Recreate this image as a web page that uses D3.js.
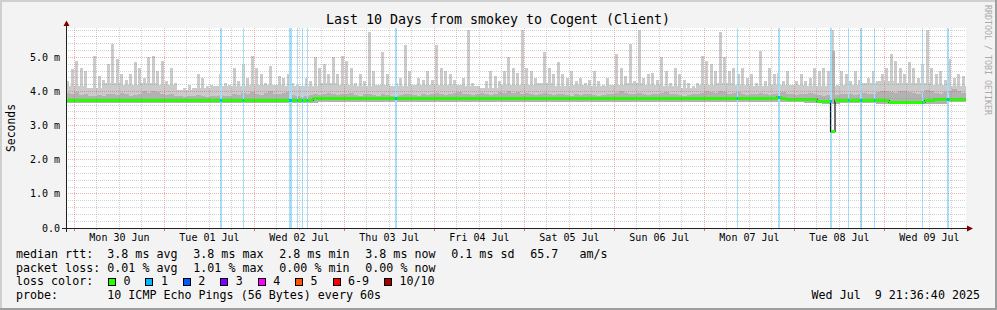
<!DOCTYPE html>
<html><head><meta charset="utf-8">
<script src="https://cdn.jsdelivr.net/npm/d3@7"></script>
<style>
body{margin:0;background:#f3f3f3}
svg{display:block}
text{font-family:"DejaVu Sans Mono",monospace;white-space:pre}
</style>
</head><body><svg id="c" width="997" height="310"></svg>
<script>
// ---------- data ----------
const title = "Last 10 Days from smokey to Cogent (Client)";
const startTime = "2025-06-29 21:36:40";
const endTime = "2025-07-09 21:36:40";
const binMinutes = 72;          // one value per 72 minutes (200 values)
const plateauMinutes = 288;     // one value per 288 minutes (50 values)

// highest ping of each 72-min bin (ms)
const maxPing = [
4.3,4.65,4.9,4.7,4.6,4.1,5.05,4.45,4.35,4.8,
5.4,4.95,4.5,4.35,4.5,4.85,4.7,4.4,5.0,5.05,
4.6,4.9,4.3,4.7,4.25,4.05,4.1,4.2,4.05,4.5,
4.4,4.15,4.2,4.15,4.5,4.25,4.2,4.7,4.3,4.8,
4.4,5.05,4.7,4.5,4.25,4.75,4.2,4.45,4.4,4.5,
4.25,4.2,4.1,4.4,4.3,5.0,4.7,4.8,4.5,5.0,
4.5,5.05,4.9,4.7,4.25,4.5,4.3,5.75,4.6,4.2,
5.15,4.5,4.15,4.25,4.4,5.35,4.6,4.2,4.4,4.35,
4.6,4.35,5.35,4.7,4.6,4.5,4.35,4.2,4.4,5.8,
4.25,4.15,4.1,4.3,4.6,4.45,4.3,4.6,5.0,4.7,
4.55,5.8,4.7,4.6,4.4,4.2,5.15,4.7,4.5,4.85,
4.5,4.4,4.6,4.3,4.4,4.25,4.35,4.6,4.3,4.2,
4.4,4.15,5.1,4.7,4.45,5.4,4.3,5.8,4.4,4.5,
4.55,4.35,5.0,4.6,4.25,4.7,4.5,4.35,4.25,4.15,
4.25,5.05,4.9,4.8,4.6,5.75,5.0,4.6,4.7,4.5,
4.7,4.4,4.5,4.25,5.2,4.3,4.7,4.5,4.55,4.3,
4.6,4.2,4.3,4.5,4.3,4.4,4.7,4.6,4.7,4.6,
5.8,4.2,4.6,4.5,4.3,4.6,4.35,4.25,4.4,4.6,
4.3,4.5,4.7,5.1,4.9,4.7,4.5,4.85,4.7,4.4,
4.8,5.8,4.7,4.5,4.6,4.35,4.95,4.4,4.5,4.45];

// upper edge of the dense light smoke, per 288-min bin (ms)
const plateau = [
4.15,4.1,4.25,4.2,4.25,4.2,4.05,4.1,4.15,4.15,
4.2,4.2,4.15,4.15,4.25,4.2,4.15,4.2,4.15,4.2,
4.2,4.2,4.15,4.1,4.2,4.2,4.25,4.15,4.2,4.15,
4.2,4.25,4.2,4.15,4.1,4.2,4.25,4.2,4.15,4.2,
4.2,4.15,4.15,4.2,4.25,4.3,4.25,4.25,4.2,4.15];

// upper edge of the darker inner smoke, per 72-min bin (ms)
const innerTop = [
3.96,3.92,3.98,3.9,3.94,3.88,3.86,3.9,3.88,3.92,
3.94,3.9,3.96,3.92,3.88,3.9,3.94,4.0,3.96,4.02,
3.98,3.92,3.9,3.94,3.88,3.86,3.84,3.86,3.88,3.9,
3.86,3.84,3.88,3.86,3.9,3.88,3.86,3.92,3.9,3.96,
3.92,3.98,3.94,3.9,3.96,4.0,3.94,3.92,3.96,3.98,
3.9,3.86,3.84,3.88,3.9,3.92,3.9,3.94,3.96,3.92,
3.9,3.94,3.92,3.96,3.9,3.88,3.92,3.94,3.9,3.88,
3.92,3.9,3.88,3.86,3.9,3.92,3.94,3.9,3.88,3.92,
3.9,3.94,3.96,3.92,3.9,3.94,3.96,3.98,3.94,3.92,
3.9,3.94,3.96,3.92,3.9,3.94,3.98,3.96,4.0,3.96,
3.98,3.94,3.96,3.92,3.9,3.94,3.96,3.92,3.9,3.94,
3.92,3.9,3.88,3.92,3.9,3.94,3.92,3.9,3.88,3.9,
3.94,3.92,3.96,4.0,3.96,3.94,3.92,3.96,3.94,3.9,
3.92,3.94,3.96,3.98,3.94,3.92,3.9,3.88,3.9,3.92,
3.94,3.96,4.0,3.98,3.96,4.02,3.98,3.94,3.96,3.98,
3.92,3.9,3.94,3.92,3.96,3.92,3.9,3.94,3.96,3.98,
3.94,3.92,3.9,3.92,3.94,3.96,3.92,3.9,3.88,3.9,
5.2,3.9,3.92,3.94,3.92,3.9,3.94,3.96,3.92,3.94,
3.98,4.0,4.02,3.98,3.96,4.0,4.02,3.98,3.96,3.94,
3.98,4.04,4.0,3.96,3.94,3.98,4.02,4.06,4.0,3.96];

// lowest ping, per 288-min bin (ms)
const smokeBottom = [
3.67,3.67,3.67,3.67,3.67,3.67,3.67,3.67,3.67,3.67,
3.67,3.67,3.67,3.67,3.69,3.69,3.69,3.69,3.69,3.69,
3.69,3.69,3.69,3.69,3.69,3.69,3.69,3.69,3.69,3.69,
3.69,3.69,3.69,3.69,3.69,3.69,3.69,3.69,3.69,3.69,
3.69,3.67,3.63,3.67,3.67,3.64,3.63,3.63,3.64,3.69];

// median rtt per 72-min bin (ms)
const median = [
3.75,3.74,3.74,3.74,3.74,3.74,3.74,3.74,3.74,3.74,
3.74,3.74,3.74,3.74,3.74,3.74,3.74,3.74,3.74,3.74,
3.74,3.74,3.74,3.74,3.74,3.74,3.74,3.74,3.74,3.74,
3.74,3.74,3.74,3.74,3.74,3.74,3.74,3.74,3.74,3.74,
3.74,3.74,3.74,3.74,3.74,3.74,3.74,3.74,3.74,3.74,
3.74,3.74,3.74,3.74,3.74,3.78,3.78,3.78,3.78,3.78,
3.78,3.78,3.78,3.78,3.78,3.78,3.78,3.78,3.78,3.78,
3.78,3.78,3.78,3.78,3.78,3.78,3.78,3.78,3.78,3.78,
3.78,3.78,3.78,3.78,3.78,3.78,3.78,3.78,3.78,3.78,
3.78,3.78,3.78,3.78,3.78,3.78,3.78,3.78,3.78,3.78,
3.78,3.78,3.78,3.78,3.78,3.78,3.78,3.78,3.78,3.78,
3.78,3.78,3.78,3.78,3.78,3.78,3.78,3.78,3.78,3.78,
3.78,3.78,3.78,3.78,3.78,3.78,3.78,3.78,3.78,3.78,
3.78,3.78,3.78,3.78,3.78,3.78,3.78,3.78,3.78,3.78,
3.78,3.78,3.78,3.78,3.78,3.78,3.78,3.78,3.78,3.78,
3.78,3.78,3.78,3.78,3.78,3.78,3.78,3.78,3.83,3.8,
3.77,3.77,3.77,3.77,3.77,3.77,3.77,3.72,3.72,3.72,
2.82,3.75,3.75,3.75,3.75,3.75,3.75,3.75,3.75,3.73,
3.73,3.73,3.73,3.69,3.69,3.69,3.69,3.69,3.69,3.69,
3.69,3.73,3.73,3.77,3.77,3.77,3.77,3.77,3.77,3.77];

// packet loss events (1 of 10 pings lost)
const lossTimes = [
"2025-07-01 14:48:00","2025-07-01 21:04:00","2025-07-02 09:12:00","2025-07-02 11:17:00",
"2025-07-02 12:37:00","2025-07-02 13:57:00","2025-07-03 13:28:00","2025-07-07 08:36:00",
"2025-07-07 19:36:00","2025-07-08 09:28:00","2025-07-08 14:12:00","2025-07-08 17:28:00",
"2025-07-08 21:09:00","2025-07-09 09:57:00","2025-07-09 16:40:00"];
const lossMinutes = [32,16,48,16,16,16,32,16,32,32,16,32,16,16,32];
const lossCounts  = [1,1,1,1,1,1,1,1,1,1,1,1,1,1,1];

const yMajorTicks = [0,1,2,3,4,5];
const yTickLabels = ["0.0","1.0 m","2.0 m","3.0 m","4.0 m","5.0 m"];

const lossLegendLabels = ["0","1","2","3","4","5","6-9","10/10"];
const lossLegendColors = ["#26ff00","#00b8ff","#0059ff","#7e00ff","#ff00ff","#ff5500","#ff0000","#a10000"];

const rttLabel = "median rtt:";
const rttStats = ["3.8 ms avg","3.8 ms max","2.8 ms min","3.8 ms now","0.1 ms sd","65.7   am/s"];
const lossLabel = "packet loss:";
const lossStats = ["0.01 % avg","1.01 % max","0.00 % min","0.00 % now"];
const lossColorLabel = "loss color:";
const probeLabel = "probe:";
const probeText = "10 ICMP Echo Pings (56 Bytes) every 60s";
const stampText = "Wed Jul  9 21:36:40 2025";
const yAxisTitle = "Seconds";
const sideText = "RRDTOOL / TOBI OETIKER";

// ---------- drawing ----------
const svg = d3.select("#c");
const parse = d3.timeParse("%Y-%m-%d %H:%M:%S");
const t0 = parse(startTime), t1 = parse(endTime);
const binMs = binMinutes * 60000, platMs = plateauMinutes * 60000;
const binT = i => new Date(+t0 + i * binMs);
const platT = j => new Date(+t0 + j * platMs);

const PL = 66, PT = 28, PW = 900, PH = 200, PB = PT + PH;
const x = d3.scaleTime().domain([t0, t1]).range([65.5, 965.5]);
const y = d3.scaleLinear().domain([0, 5.86]).range([PB, PT]);

// background and 3D frame
svg.append("rect").attr("width", 997).attr("height", 310).attr("fill", "#f3f3f3");
svg.append("rect").attr("x",0).attr("y",0).attr("width",997).attr("height",2).attr("fill","#cfcfcf");
svg.append("rect").attr("x",0).attr("y",0).attr("width",2).attr("height",310).attr("fill","#cfcfcf");
svg.append("rect").attr("x",0).attr("y",308).attr("width",997).attr("height",2).attr("fill","#9e9e9e");
svg.append("rect").attr("x",995).attr("y",0).attr("width",2).attr("height",310).attr("fill","#9e9e9e");

// canvas
svg.append("rect").attr("x", PL).attr("y", PT).attr("width", PW).attr("height", PH).attr("fill", "#ffffff");
svg.append("clipPath").attr("id","clip").append("rect").attr("x",PL).attr("y",PT).attr("width",PW).attr("height",PH);
const plot = svg.append("g").attr("clip-path","url(#clip)").attr("shape-rendering","crispEdges");

const platIndex = i => Math.floor(i * binMinutes / plateauMinutes);

// light smoke plateau
plot.append("g").selectAll("rect").data(plateau).join("rect")
  .attr("x", (d,j) => x(platT(j)))
  .attr("width", (d,j) => x(platT(j+1)) - x(platT(j)))
  .attr("y", d => y(d))
  .attr("height", (d,j) => y(smokeBottom[j]) - y(d))
  .attr("fill", "#cbcbcb");

// light smoke spikes: highest ping per bin
plot.append("g").selectAll("rect").data(maxPing).join("rect")
  .attr("x", (d,i) => Math.round(x(binT(i)) + 0.75))
  .attr("width", 3)
  .attr("y", d => y(d))
  .attr("height", (d,i) => y(smokeBottom[platIndex(i)]) - y(d))
  .attr("fill", "#cbcbcb");

// inner (denser) smoke
plot.append("g").selectAll("rect").data(innerTop).join("rect")
  .attr("x", (d,i) => x(binT(i)))
  .attr("width", (d,i) => x(binT(i+1)) - x(binT(i)))
  .attr("y", d => y(d))
  .attr("height", (d,i) => y(smokeBottom[platIndex(i)]) - y(d))
  .attr("fill", "#b2b2b2");

// loss background bars
const lossData = lossTimes.map((t,k) => ({t: parse(t), m: lossMinutes[k], n: lossCounts[k]}));
plot.append("g").selectAll("rect").data(lossData).join("rect")
  .attr("x", d => x(d.t))
  .attr("width", d => Math.max(1, x(new Date(+d.t + d.m*60000)) - x(d.t)))
  .attr("y", PT).attr("height", PH)
  .attr("fill", "#a6def7");

// median: black step line then loss-coloured thick segments
const medPts = median.map((v,i) => [x(binT(i)), y(v)]);
medPts.push([x(t1), y(median[median.length-1])]);
plot.append("path").attr("d", d3.line().curve(d3.curveStepAfter)(medPts))
  .attr("fill","none").attr("stroke","#111").attr("stroke-width",1.2).attr("shape-rendering","auto");
plot.append("g").selectAll("rect").data(median).join("rect")
  .attr("x", (d,i) => x(binT(i)))
  .attr("width", (d,i) => x(binT(i+1)) - x(binT(i)))
  .attr("y", d => y(d) - 1.5).attr("height", 3)
  .attr("fill", lossLegendColors[0]);
plot.append("g").selectAll("rect").data(lossData).join("rect")
  .attr("x", d => x(d.t))
  .attr("width", d => Math.max(1, x(new Date(+d.t + d.m*60000)) - x(d.t)))
  .attr("y", d => y(median[Math.min(median.length-1, Math.floor((d.t - t0)/binMs))]) - 1.5)
  .attr("height", 3)
  .attr("fill", d => lossLegendColors[d.n]);

// grid (drawn on top, rrdtool style)
const grid = svg.append("g").attr("shape-rendering","crispEdges");
const minorCol = "rgba(140,140,140,0.4)", majorCol = "rgba(230,80,80,0.45)";
const sixHours = d3.timeHour.every(6).range(t0, t1);
sixHours.forEach(d => {
  const xx = Math.floor(x(d)) + 0.5;
  const major = d.getHours() === 0;
  grid.append("line").attr("x1", xx).attr("x2", xx).attr("y1", PT).attr("y2", PB)
    .attr("stroke", major ? majorCol : minorCol).attr("stroke-dasharray", "1,1");
});
d3.range(1, 30).map(k => k * 0.2).filter(v => v < 5.86).forEach(v => {
  const isMajor = Math.abs(v - Math.round(v)) < 1e-6;
  const yy = Math.floor(y(v)) + 0.5;
  grid.append("line").attr("x1", PL).attr("x2", PL + PW).attr("y1", yy).attr("y2", yy)
    .attr("stroke", isMajor ? majorCol : minorCol).attr("stroke-dasharray", "1,1");
});
// x ticks below axis
sixHours.forEach(d => {
  const xx = Math.floor(x(d)) + 0.5;
  const major = d.getHours() === 0;
  grid.append("line").attr("x1", xx).attr("x2", xx).attr("y1", PB).attr("y2", PB + (major ? 3 : 2))
    .attr("stroke", major ? "#e07070" : "#b0b0b0");
});

// axes
const ax = svg.append("g").attr("shape-rendering","crispEdges");
ax.append("line").attr("x1", 62).attr("x2", 968).attr("y1", PB + 0.5).attr("y2", PB + 0.5).attr("stroke", "#202020");
ax.append("line").attr("x1", 66.5).attr("x2", 66.5).attr("y1", PB + 4).attr("y2", 25).attr("stroke", "#202020");
svg.append("path").attr("d", `M967,${PB-2.5} L973,${PB+0.5} L967,${PB+3.5} Z`).attr("fill", "#7f0000");
svg.append("path").attr("d", `M63.5,26 L66.5,20.5 L69.5,26 Z`).attr("fill", "#7f0000");

// y labels
svg.append("g").selectAll("text").data(yMajorTicks).join("text")
  .attr("x", 60).attr("y", d => y(d) + 3.5).attr("text-anchor", "end")
  .attr("font-size", "10px").attr("fill", "#000").text((d,i) => yTickLabels[i]);

// x labels at noon
const fmt = d3.timeFormat("%a %d %b");
const noons = d3.timeDay.range(t0, t1).map(d => d3.timeHour.offset(d, 12)).filter(d => d > t0 && d < t1);
svg.append("g").selectAll("text").data(noons).join("text")
  .attr("x", d => x(d)).attr("y", 241).attr("text-anchor", "middle")
  .attr("font-size", "10px").attr("fill", "#000").text(d => fmt(d));

// title
svg.append("text").attr("x", 498).attr("y", 24).attr("text-anchor", "middle")
  .attr("font-size", "13.3px").attr("fill", "#000").text(title);

// y axis title
svg.append("text").attr("transform", "translate(15,128) rotate(-90)").attr("text-anchor", "middle")
  .attr("font-size", "11.4px").attr("fill", "#000").text(yAxisTitle);

// side text
svg.append("text").attr("transform", "translate(985,5) rotate(90)").attr("text-anchor", "start")
  .attr("font-size", "8.3px").attr("fill", "#aaaaaa").text(sideText);

// legend
const FS = "11.66px", CW = 7.02, GAP = 15.8, COL = 107.3, LX = 16;
const leg = svg.append("g").attr("font-size", FS).attr("fill", "#000");
function statLine(label, items, yy) {
  leg.append("text").attr("x", LX).attr("y", yy).text(label);
  let cx = COL;
  items.forEach(s => {
    leg.append("text").attr("x", cx).attr("y", yy).text(s);
    cx += s.length * CW + GAP;
  });
}
statLine(rttLabel, rttStats, 258.3);
statLine(lossLabel, lossStats, 271.8);
leg.append("text").attr("x", LX).attr("y", 285.4).text(lossColorLabel);
let sx = 108.5;
lossLegendLabels.forEach((lab, k) => {
  leg.append("rect").attr("x", sx).attr("y", 278.5).attr("width", 7).attr("height", 7)
    .attr("fill", lossLegendColors[k]).attr("stroke", "#000").attr("stroke-width", 1)
    .attr("shape-rendering","crispEdges");
  leg.append("text").attr("x", sx + 15).attr("y", 285.4).text(lab);
  sx += 15 + lab.length * CW + 15.4;
});
leg.append("text").attr("x", LX).attr("y", 299).text(probeLabel);
leg.append("text").attr("x", COL).attr("y", 299).text(probeText);
leg.append("text").attr("x", 980).attr("y", 299).attr("text-anchor", "end").text(stampText);
</script>
</body></html>
